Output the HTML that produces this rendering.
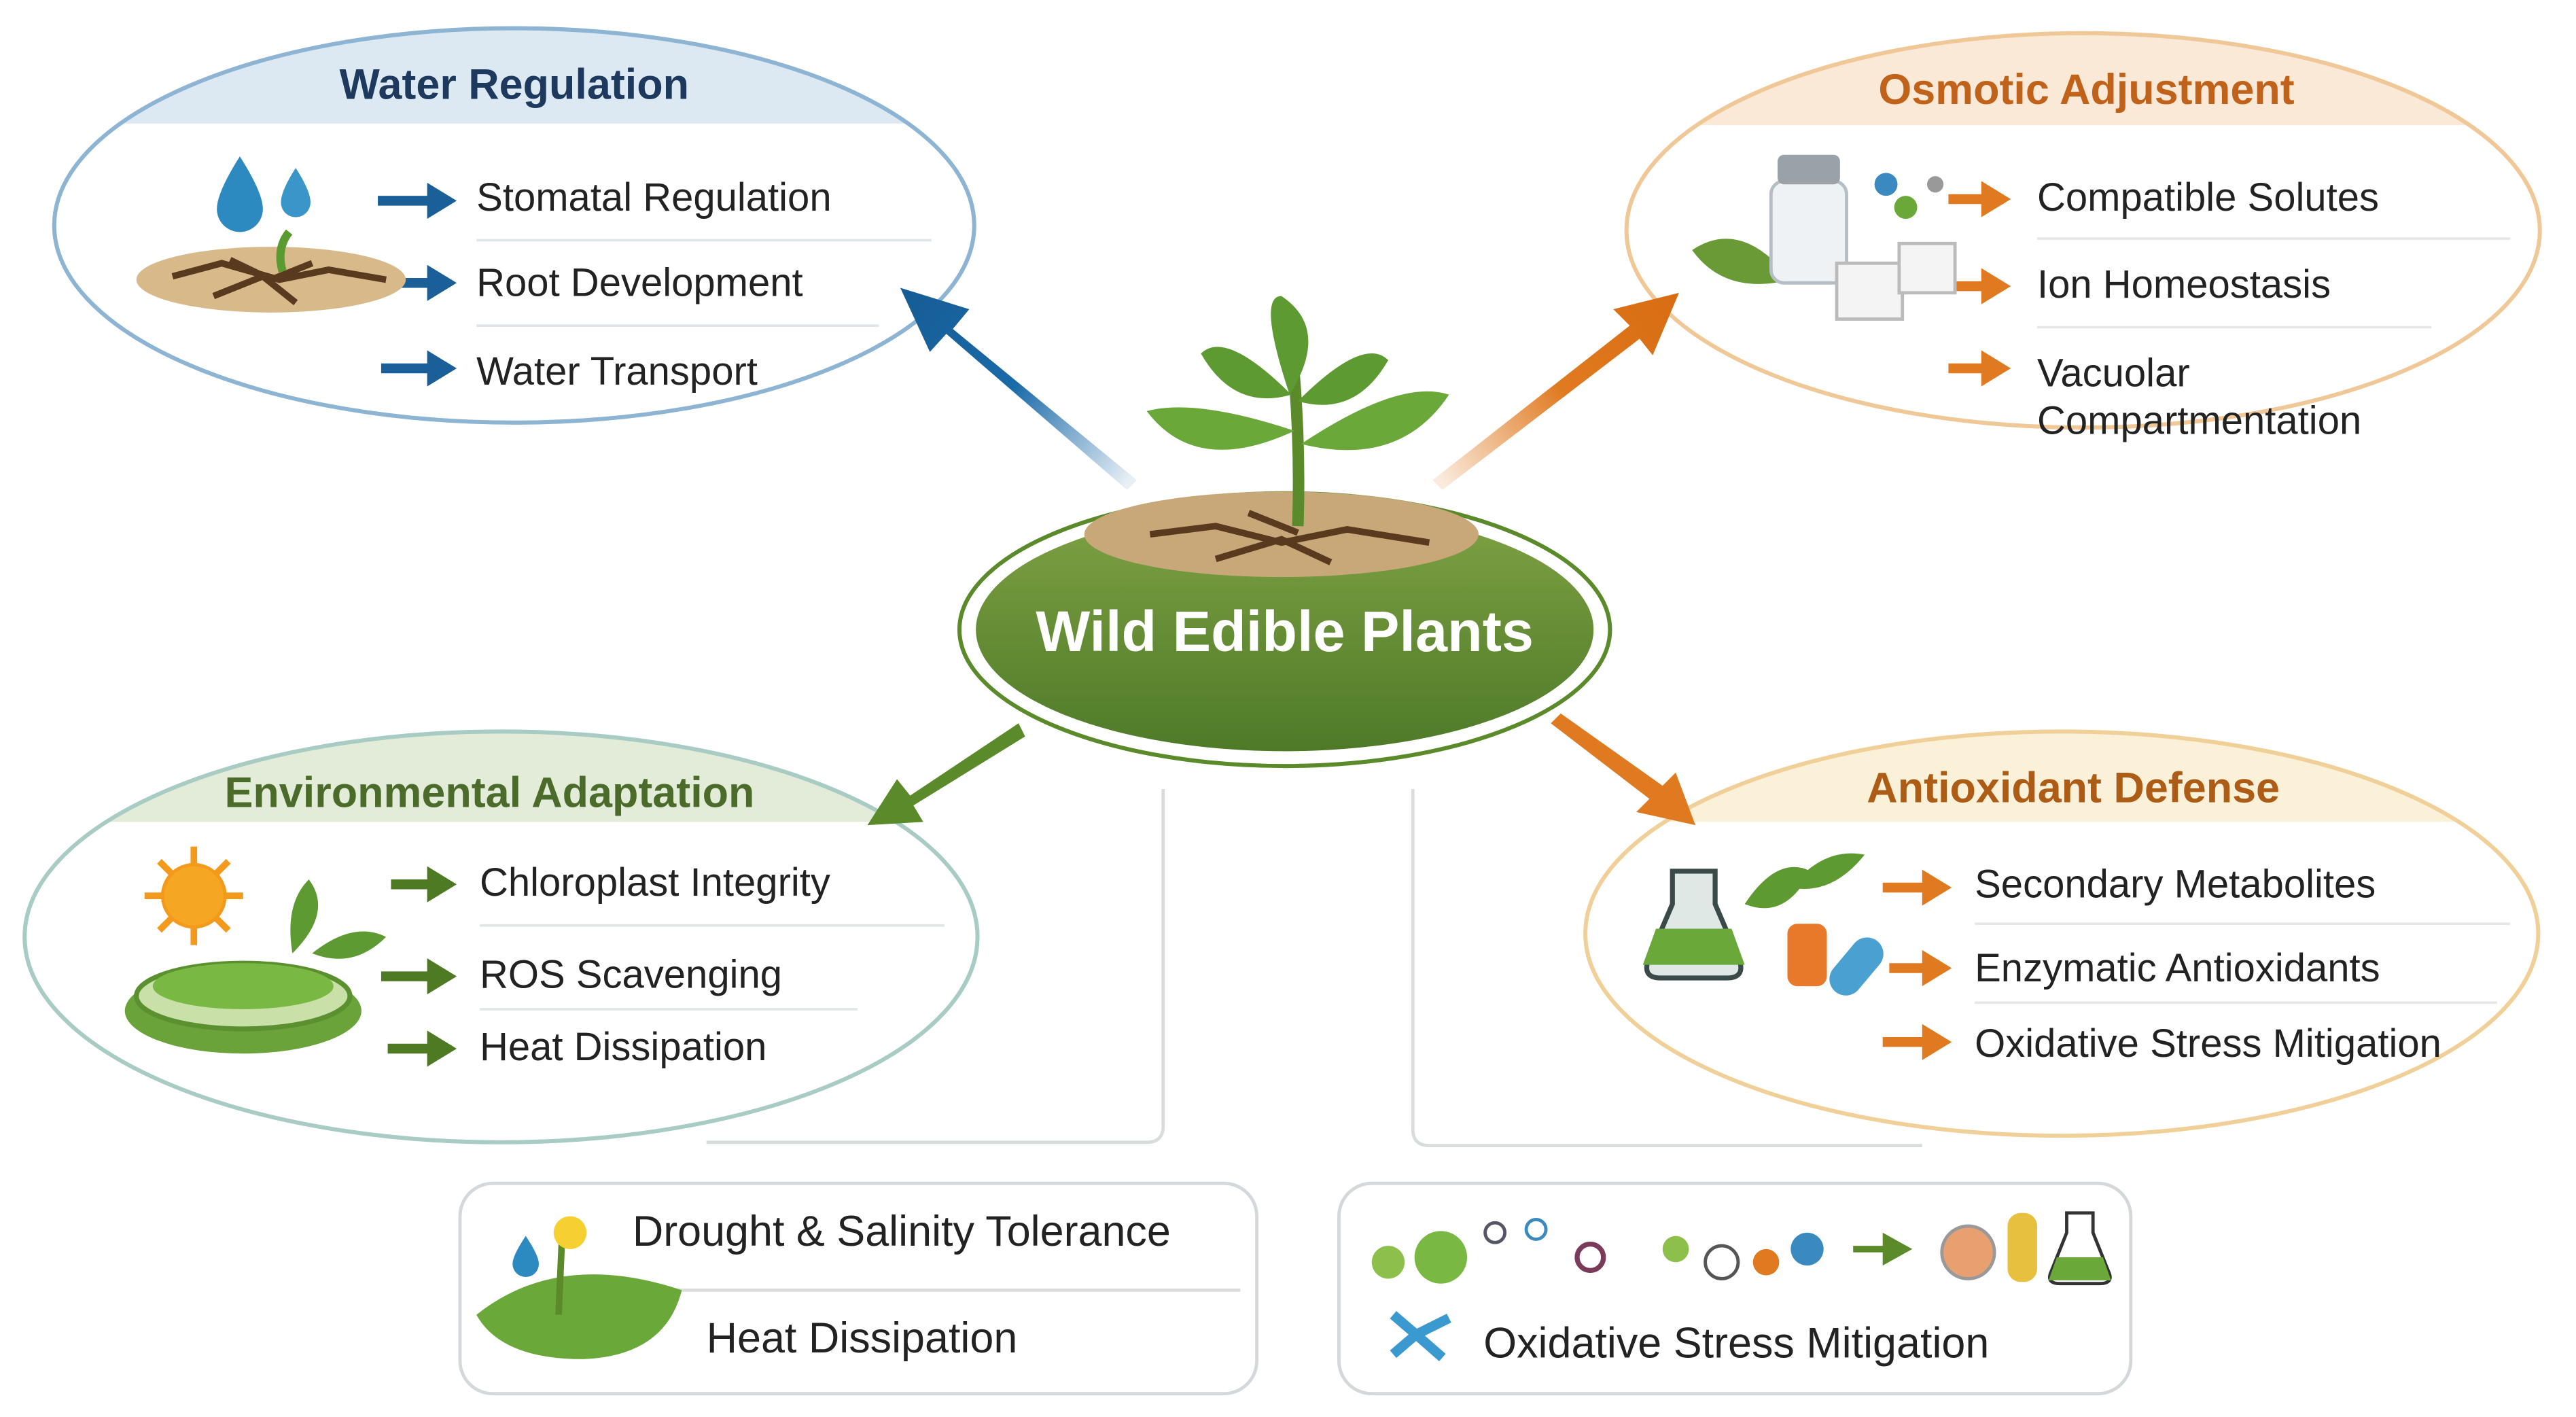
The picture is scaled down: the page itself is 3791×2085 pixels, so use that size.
<!DOCTYPE html>
<html><head><meta charset="utf-8"><style>
html,body{margin:0;padding:0;background:#fff;}
svg{display:block;}
text{font-family:"Liberation Sans",sans-serif;}
</style></head><body>
<svg width="3791" height="2085" viewBox="0 0 1568 862" xmlns="http://www.w3.org/2000/svg">
<defs>
<linearGradient id="gC" x1="0" y1="0" x2="0" y2="1"><stop offset="0" stop-color="#7fa244"/><stop offset="1" stop-color="#4e7a28"/></linearGradient>
<linearGradient id="aB" x1="690" y1="290" x2="548" y2="175" gradientUnits="userSpaceOnUse"><stop offset="0" stop-color="#1a6aa8" stop-opacity="0.1"/><stop offset="0.5" stop-color="#1a6aa8"/><stop offset="1" stop-color="#165c95"/></linearGradient>
<linearGradient id="aO" x1="875" y1="290" x2="1022" y2="178" gradientUnits="userSpaceOnUse"><stop offset="0" stop-color="#e07a20" stop-opacity="0.15"/><stop offset="0.5" stop-color="#e07a20"/><stop offset="1" stop-color="#d86c12"/></linearGradient>
<clipPath id="c1"><ellipse cx="313" cy="137" rx="280" ry="120"/></clipPath>
<clipPath id="c2"><ellipse cx="1268" cy="140" rx="278" ry="120"/></clipPath>
<clipPath id="c3"><ellipse cx="305" cy="570" rx="290" ry="125"/></clipPath>
<clipPath id="c4"><ellipse cx="1255" cy="568" rx="290" ry="123"/></clipPath>
</defs>
<rect width="1568" height="862" fill="#fff"/>

<!-- connector lines -->
<g fill="none" stroke="#d8dcdc" stroke-width="2">
<path d="M708 480 V685 Q708 695 698 695 H430"/>
<path d="M860 480 V687 Q860 697 870 697 H1170"/>
</g>

<!-- Water Regulation -->
<ellipse cx="313" cy="137" rx="280" ry="120" fill="#fff"/>
<rect x="0" y="0" width="620" height="75" fill="#dce9f3" clip-path="url(#c1)"/>
<ellipse cx="313" cy="137" rx="280" ry="120" fill="none" stroke="#8db4d2" stroke-width="2.5"/>
<text x="313" y="60" text-anchor="middle" font-size="26" font-weight="bold" fill="#1d3a5e">Water Regulation</text>
<g stroke="#dfe6ea" stroke-width="1.5"><line x1="290" y1="146" x2="567" y2="146"/><line x1="290" y1="198" x2="535" y2="198"/></g>
<g fill="#1a5f97"><path d="M230 119h30v-8l18 11-18 11v-8h-30z"/><path d="M240 169h20v-8l18 11-18 11v-8h-20z"/><path d="M232 221h28v-8l18 11-18 11v-8h-28z"/></g>
<g font-size="24" fill="#222"><text x="290" y="128">Stomatal Regulation</text><text x="290" y="180">Root Development</text><text x="290" y="234">Water Transport</text></g>
<path d="M146 95 q-14 22 -14 32 a14 14 0 0 0 28 0 q0 -10 -14 -32z" fill="#2d8ac0"/>
<path d="M180 102 q-9 14 -9 21 a9 9 0 0 0 18 0 q0 -7 -9 -21z" fill="#3a95c8"/>
<ellipse cx="165" cy="170" rx="82" ry="20" fill="#d8b98a"/>
<path d="M105 168 l30 -8 l35 10 l30 -6 l35 6 M130 180 l30 -12 l20 16 M140 158 l25 12 l25 -10" stroke="#5a3a1e" stroke-width="4" fill="none"/>
<path d="M172 165 q-4 -14 4 -24" stroke="#5a9a30" stroke-width="5" fill="none"/>

<!-- Osmotic Adjustment -->
<ellipse cx="1268" cy="140" rx="278" ry="120" fill="#fff"/>
<rect x="980" y="0" width="600" height="76" fill="#fbe9d8" clip-path="url(#c2)"/>
<ellipse cx="1268" cy="140" rx="278" ry="120" fill="none" stroke="#f0c898" stroke-width="2.5"/>
<text x="1270" y="63" text-anchor="middle" font-size="26" font-weight="bold" fill="#c0621a">Osmotic Adjustment</text>
<g stroke="#e6e6e6" stroke-width="1.5"><line x1="1240" y1="145" x2="1528" y2="145"/><line x1="1240" y1="199" x2="1480" y2="199"/></g>
<g fill="#e07a20"><path d="M1186 118h20v-8l18 11-18 11v-8h-20z"/><path d="M1186 171h20v-8l18 11-18 11v-8h-20z"/><path d="M1186 221h20v-8l18 11-18 11v-8h-20z"/></g>
<g font-size="24" fill="#222"><text x="1240" y="128">Compatible Solutes</text><text x="1240" y="181">Ion Homeostasis</text><text x="1240" y="235">Vacuolar</text><text x="1240" y="264">Compartmentation</text></g>
<path d="M1030 152 q30 -20 60 18 q-40 10 -60 -18z" fill="#6a9a36"/>
<rect x="1078" y="110" width="46" height="62" rx="8" fill="#eef2f4" stroke="#b5bec4" stroke-width="2"/>
<rect x="1082" y="94" width="38" height="18" rx="4" fill="#9aa2a8"/>
<rect x="1118" y="160" width="40" height="34" fill="#f4f4f4" stroke="#bbb" stroke-width="2"/>
<rect x="1156" y="148" width="34" height="30" fill="#f4f4f4" stroke="#bbb" stroke-width="2"/>
<circle cx="1148" cy="112" r="7" fill="#3a8ac0"/><circle cx="1160" cy="126" r="7" fill="#6aa83a"/><circle cx="1178" cy="112" r="5" fill="#999"/>

<!-- Environmental Adaptation -->
<ellipse cx="305" cy="570" rx="290" ry="125" fill="#fff"/>
<rect x="0" y="445" width="620" height="55" fill="#e3ecd9" clip-path="url(#c3)"/>
<ellipse cx="305" cy="570" rx="290" ry="125" fill="none" stroke="#a8cbc4" stroke-width="2.5"/>
<text x="298" y="491" text-anchor="middle" font-size="26" font-weight="bold" fill="#4a6b2a">Environmental Adaptation</text>
<g stroke="#e2e6e2" stroke-width="1.5"><line x1="292" y1="563" x2="575" y2="563"/><line x1="292" y1="614" x2="522" y2="614"/></g>
<g fill="#4f7a24"><path d="M238 535h22v-8l18 11-18 11v-8h-22z"/><path d="M232 591h28v-8l18 11-18 11v-8h-28z"/><path d="M236 635h24v-8l18 11-18 11v-8h-24z"/></g>
<g font-size="24" fill="#222"><text x="292" y="545">Chloroplast Integrity</text><text x="292" y="601">ROS Scavenging</text><text x="292" y="645">Heat Dissipation</text></g>
<circle cx="118" cy="545" r="20" fill="#f39a1c"/>
<g stroke="#f39a1c" stroke-width="4"><line x1="118" y1="515" x2="118" y2="575"/><line x1="88" y1="545" x2="148" y2="545"/><line x1="97" y1="524" x2="139" y2="566"/><line x1="139" y1="524" x2="97" y2="566"/></g>
<circle cx="118" cy="545" r="18" fill="#f5a623"/>
<ellipse cx="148" cy="615" rx="72" ry="26" fill="#6aa33a"/>
<ellipse cx="148" cy="606" rx="65" ry="20" fill="#c9e0a8" stroke="#5a9030" stroke-width="3"/>
<ellipse cx="148" cy="600" rx="55" ry="14" fill="#7ab844"/>
<path d="M178 580 q-5 -30 10 -45 q15 20 -10 45z M190 580 q25 -20 45 -10 q-20 20 -45 10z" fill="#5e9a32"/>

<!-- Antioxidant Defense -->
<ellipse cx="1255" cy="568" rx="290" ry="123" fill="#fff"/>
<rect x="960" y="445" width="600" height="55" fill="#fbf0d8" clip-path="url(#c4)"/>
<ellipse cx="1255" cy="568" rx="290" ry="123" fill="none" stroke="#f0d098" stroke-width="2.5"/>
<text x="1262" y="488" text-anchor="middle" font-size="26" font-weight="bold" fill="#ad5c16">Antioxidant Defense</text>
<g stroke="#e6e6e6" stroke-width="1.5"><line x1="1202" y1="562" x2="1528" y2="562"/><line x1="1202" y1="610" x2="1520" y2="610"/></g>
<g fill="#e07a20"><path d="M1146 537h24v-8l18 11-18 11v-8h-24z"/><path d="M1150 586h20v-8l18 11-18 11v-8h-20z"/><path d="M1146 631h24v-8l18 11-18 11v-8h-24z"/></g>
<g font-size="24" fill="#222"><text x="1202" y="546">Secondary Metabolites</text><text x="1202" y="597">Enzymatic Antioxidants</text><text x="1202" y="643">Oxidative Stress Mitigation</text></g>
<path d="M1018 530 h26 v20 l15 35 q3 10 -8 10 h-40 q-11 0 -8 -10 l15 -35z" fill="#dfe8e4" stroke="#3a4a48" stroke-width="3"/>
<path d="M1008 565 h46 l8 22 h-62z" fill="#6aa83a"/>
<path d="M1062 550 q20 -30 40 -20 q-15 30 -40 20z M1090 540 q20 -25 45 -20 q-20 25 -45 20z" fill="#5e9a32"/>
<rect x="1088" y="562" width="24" height="38" rx="6" fill="#e8782a"/>
<rect x="1120" y="568" width="20" height="40" rx="10" fill="#4aa0d0" transform="rotate(40 1130 588)"/>

<!-- big arrows -->
<path d="M692 292 L580 200 L590 188 L548 175 L566 214 L576 203 L686 298z" fill="url(#aB)"/>
<path d="M872 292 L992 198 L982 188 L1022 178 L1006 216 L998 206 L878 298z" fill="url(#aO)"/>
<path d="M620 440 L554 484 L546 474 L528 502 L562 500 L556 490 L624 448z" fill="#5a8a2a"/>
<path d="M944 440 L1004 486 L996 494 L1032 502 L1020 470 L1012 478 L950 434z" fill="#e07a20"/>

<!-- center -->
<ellipse cx="782" cy="383" rx="198" ry="83" fill="#fff" stroke="#5a8a2a" stroke-width="2.5"/>
<ellipse cx="782" cy="383" rx="188" ry="74" fill="url(#gC)"/>
<ellipse cx="780" cy="325" rx="120" ry="26" fill="#c8a878"/>
<path d="M700 325 l40 -5 l40 10 l40 -8 l50 8 M740 340 l40 -12 l30 14 M760 312 l30 12" stroke="#5a3a1e" stroke-width="4" fill="none"/>
<path d="M790 320 Q792 260 785 200" stroke="#5a8a2a" stroke-width="7" fill="none"/>
<path d="M785 240 q-20 -60 -5 -60 q30 20 5 60z" fill="#5e9a32"/>
<path d="M788 262 q-60 -20 -90 -12 q30 40 90 12z" fill="#6aa83a"/>
<path d="M792 270 q60 -40 90 -30 q-30 45 -90 30z" fill="#6aa83a"/>
<path d="M786 240 q-40 -40 -55 -25 q20 35 55 25z" fill="#5e9a32"/>
<path d="M790 244 q40 -40 55 -25 q-20 35 -55 25z" fill="#5e9a32"/>
<text x="782" y="396" text-anchor="middle" font-size="35" font-weight="bold" fill="#fff">Wild Edible Plants</text>

<!-- bottom boxes -->
<rect x="280" y="720" width="485" height="128" rx="20" fill="#fff" stroke="#d4d8da" stroke-width="2"/>
<line x1="380" y1="785" x2="755" y2="785" stroke="#dcdcdc" stroke-width="2"/>
<text x="385" y="758" font-size="26" fill="#222">Drought &amp; Salinity Tolerance</text>
<text x="430" y="823" font-size="26" fill="#222">Heat Dissipation</text>
<path d="M290 800 q50 -40 125 -15 q-10 40 -60 42 q-50 0 -65 -27z" fill="#6aa83a"/>
<line x1="340" y1="800" x2="342" y2="755" stroke="#5a8a2a" stroke-width="4"/>
<circle cx="347" cy="750" r="10" fill="#f5d030"/>
<path d="M320 752 q-8 12 -8 17 a8 8 0 0 0 16 0 q0 -5 -8 -17z" fill="#2d8ac0"/>

<rect x="815" y="720" width="482" height="128" rx="20" fill="#fff" stroke="#d4d8da" stroke-width="2"/>
<text x="903" y="826" font-size="26" fill="#222">Oxidative Stress Mitigation</text>
<g>
<circle cx="845" cy="768" r="10" fill="#8cc04a"/><circle cx="877" cy="765" r="16" fill="#7ab844"/>
<circle cx="910" cy="750" r="6" fill="none" stroke="#556" stroke-width="2"/><circle cx="935" cy="748" r="6" fill="none" stroke="#3a8ac0" stroke-width="2"/>
<circle cx="968" cy="765" r="8" fill="none" stroke="#7a3a5a" stroke-width="3"/>
<circle cx="1020" cy="760" r="8" fill="#8cc04a"/><circle cx="1048" cy="768" r="10" fill="none" stroke="#555" stroke-width="2"/>
<circle cx="1075" cy="768" r="8" fill="#e07a20"/><circle cx="1100" cy="760" r="10" fill="#3a8ac0"/>
<path d="M1128 758h18v-8l18 10-18 10v-8h-18z" fill="#5a8a2a"/>
<circle cx="1198" cy="762" r="16" fill="#e8a070" stroke="#999" stroke-width="2"/>
<rect x="1222" y="738" width="18" height="42" rx="8" fill="#e8c040"/>
<path d="M1258 738h16v12l10 25q2 6-6 6h-24q-8 0-6-6l10-25z" fill="#fff" stroke="#333" stroke-width="2"/>
<path d="M1252 765h28l5 14h-38z" fill="#6aa83a"/>
<path d="M848 800 l14 12 l-14 12 M862 812 l20 -10 M862 812 l16 14" stroke="#3a9ad0" stroke-width="6" fill="none"/>
</g>
</svg>
</body></html>
